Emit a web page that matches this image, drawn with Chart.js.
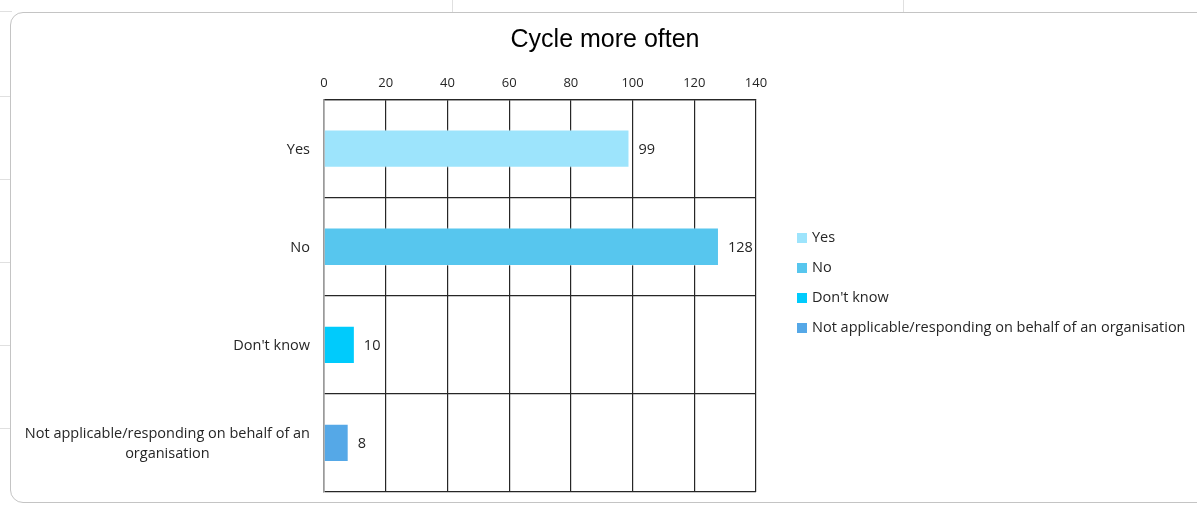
<!DOCTYPE html>
<html>
<head>
<meta charset="utf-8">
<script src="https://cdn.jsdelivr.net/npm/chart.js@4.4.1/dist/chart.umd.min.js"></script>
<style>
  html, body { margin: 0; padding: 0; background: #fff; overflow: hidden; }
  #wrap { position: relative; width: 1197px; height: 508px; }
  #panel { position: absolute; left: 10px; top: 12px; width: 1220px; height: 491px;
           border: 1.5px solid #c4c4c4; border-radius: 13px; box-sizing: border-box; }
  .gl { position: absolute; background: #e0e0e0; }
  canvas { position: absolute; left: 0; top: 0; }
</style>
</head>
<body>
<div id="wrap">
  <div class="gl" style="left:452px;top:0;width:1px;height:12px"></div>
  <div class="gl" style="left:903px;top:0;width:1px;height:12px"></div>
  <div class="gl" style="left:0;top:11px;width:12px;height:1px"></div>
  <div class="gl" style="left:0;top:96px;width:10px;height:1px"></div>
  <div class="gl" style="left:0;top:179px;width:10px;height:1px"></div>
  <div class="gl" style="left:0;top:262px;width:10px;height:1px"></div>
  <div class="gl" style="left:0;top:345px;width:10px;height:1px"></div>
  <div class="gl" style="left:0;top:428px;width:10px;height:1px"></div>
  <div id="panel"></div>
  <canvas id="c" width="1197" height="508"></canvas>
</div>
<script>
const chartTitle = "Cycle more often";
const categories = [
  "Yes",
  "No",
  "Don't know",
  ["Not applicable/responding on behalf of an", "organisation"]
];
const legendLabels = ["Yes", "No", "Don't know", "Not applicable/responding on behalf of an organisation"];
const values = [99, 128, 10, 8];
const barColors = ["#9de4fc", "#57c6ee", "#00cbfc", "#55a8e7"];
const xMin = 0, xMax = 140, xStep = 20;

const labelFont = "14.5px 'Open Sans'";

const titlePlugin = {
  id: 'titleText',
  afterDraw(chart) {
    const ctx = chart.ctx;
    ctx.save();
    ctx.font = "25px 'Liberation Sans'";
    ctx.fillStyle = '#000';
    ctx.textAlign = 'center';
    ctx.textBaseline = 'middle';
    ctx.fillText(chartTitle, 605, 40);
    ctx.restore();
  }
};

const yLabelPlugin = {
  id: 'yLabels',
  afterDraw(chart) {
    const ctx = chart.ctx;
    const ys = chart.scales.y;
    const right = chart.chartArea.left - 14;
    ctx.save();
    ctx.font = labelFont;
    ctx.fillStyle = '#262626';
    ctx.textBaseline = 'middle';
    ctx.textAlign = 'center';
    categories.forEach((lab, i) => {
      const lines = Array.isArray(lab) ? lab : [lab];
      const w = Math.max(...lines.map(l => ctx.measureText(l).width));
      const cx = right - w / 2;
      const lh = 20;
      const cy = ys.getPixelForTick(i) + 1;
      lines.forEach((l, k) => {
        ctx.fillText(l, cx, cy + (k - (lines.length - 1) / 2) * lh);
      });
    });
    ctx.restore();
  }
};

const valueLabelPlugin = {
  id: 'valueLabels',
  afterDatasetsDraw(chart) {
    const ctx = chart.ctx;
    const meta = chart.getDatasetMeta(0);
    ctx.save();
    ctx.font = labelFont;
    ctx.fillStyle = '#262626';
    ctx.textBaseline = 'middle';
    ctx.textAlign = 'left';
    meta.data.forEach((bar, i) => {
      ctx.fillText(String(values[i]), bar.x + 9, bar.y + 1);
    });
    ctx.restore();
  }
};

const legendPlugin = {
  id: 'customLegend',
  afterDraw(chart) {
    const ctx = chart.ctx;
    ctx.save();
    ctx.font = labelFont;
    ctx.textBaseline = 'middle';
    ctx.textAlign = 'left';
    const x0 = chart.chartArea.right + 41;
    legendLabels.forEach((l, i) => {
      const y = 238 + i * 30;
      ctx.fillStyle = barColors[i];
      ctx.fillRect(x0, y - 5, 10, 10);
      ctx.fillStyle = '#262626';
      ctx.fillText(l, x0 + 15, y);
    });
    ctx.restore();
  }
};

new Chart(document.getElementById('c'), {
  type: 'bar',
  data: {
    labels: categories,
    datasets: [{
      data: values,
      backgroundColor: barColors,
      borderColor: 'rgba(255,255,255,0.35)',
      borderWidth: 1,
      barPercentage: 0.39,
      categoryPercentage: 1.0
    }]
  },
  options: {
    indexAxis: 'y',
    responsive: false,
    animation: false,
    devicePixelRatio: 1,
    layout: { padding: { left: 0, right: 441, top: 66, bottom: 16 } },
    plugins: {
      legend: { display: false },
      tooltip: { enabled: false },
      title: { display: false }
    },
    scales: {
      x: {
        position: 'top',
        min: xMin, max: xMax,
        ticks: {
          stepSize: xStep,
          color: '#262626',
          font: { family: "'Open Sans'", size: 13 },
          padding: 9
        },
        grid: { color: '#262626', lineWidth: 1.2, tickLength: 0 },
        border: { color: '#262626', width: 1.2 }
      },
      y: {
        ticks: { display: false },
        grid: { color: '#262626', lineWidth: 1.2, tickLength: 0, offset: true },
        border: { color: '#9a9a9a', width: 1.5 },
        afterFit(scale) { scale.width = 324; }
      }
    }
  },
  plugins: [titlePlugin, yLabelPlugin, valueLabelPlugin, legendPlugin]
});
</script>
</body>
</html>
